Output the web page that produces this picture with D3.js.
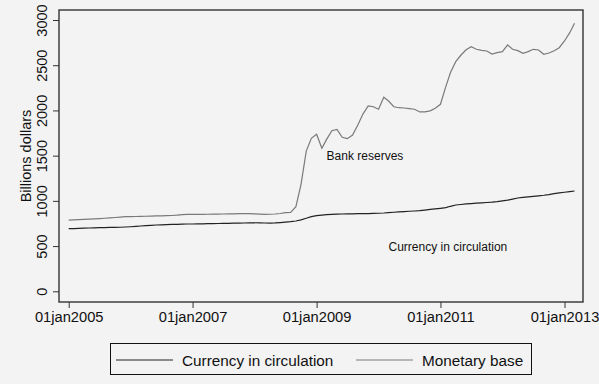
<!DOCTYPE html>
<html>
<head>
<meta charset="utf-8">
<script src="https://cdn.jsdelivr.net/npm/d3@7"></script>
<style>
  body { margin: 0; background: #f3f3f3; }
  svg { display: block; font-family: "Liberation Sans", Arial, sans-serif; }
</style>
</head>
<body>
<svg id="chart" width="599" height="384"></svg>
<script>

// monthly, Jan 2005 .. Mar 2013, billions of dollars
var currency = [
  692, 694, 696, 698, 700, 702, 704, 705, 706, 707, 708, 711,
  714, 718, 722, 726, 730, 733, 735, 737, 739, 741, 742, 744,
  744, 745, 746, 748, 749, 750, 751, 752, 753, 754, 755, 757,
  758, 757, 755, 754, 756, 760, 765, 770, 777, 790, 808, 825,
  836, 843, 848, 851, 853, 855, 856, 857, 858, 859, 860, 862,
  863, 866, 870, 874, 878, 882, 885, 888, 892, 898, 905, 912,
  918, 925, 940, 954, 960, 966, 970, 974, 978, 982, 986, 992,
  1000, 1008, 1020, 1032, 1039, 1045, 1050, 1056, 1062, 1070, 1080, 1088,
  1095, 1102, 1109
];

var monetaryBase = [
  788, 790, 792, 795, 798, 801, 804, 808, 812, 816, 820, 825,
  826, 827, 828, 830, 832, 834, 835, 836, 838, 842, 848, 851,
  851, 850, 851, 852, 853, 854, 855, 856, 857, 858, 858, 860,
  856, 853, 851, 852, 855, 860, 869, 873, 936, 1180, 1550, 1692,
  1736, 1581, 1680, 1776, 1791, 1703, 1688, 1728, 1840, 1960, 2049, 2041,
  2013, 2145, 2104, 2041, 2030, 2027, 2020, 2013, 1983, 1985, 1995, 2024,
  2068, 2260, 2420, 2539, 2610, 2670, 2705, 2676, 2665, 2657, 2624, 2640,
  2650, 2724, 2676, 2661, 2632, 2650, 2676, 2668, 2621, 2635, 2660, 2694,
  2768, 2860, 2964
];

var xTickLabels = ['01jan2005', '01jan2007', '01jan2009', '01jan2011', '01jan2013'];
var yTicks = [0, 500, 1000, 1500, 2000, 2500, 3000];
var legendLabels = ['Currency in circulation', 'Monetary base'];

var svg = d3.select('#chart'),
    frame = { left: 59, top: 10, right: 583, bottom: 302 },
    month = function(i) { return new Date(2005, i, 1); },
    parseTick = d3.timeParse('%d%b%Y');

var x = d3.scaleTime()
      .domain([new Date(2005, 0, 1), new Date(2013, 0, 1)])
      .range([68.7, 564.5]),
    y = d3.scaleLinear()
      .domain([0, 3000])
      .range([291.3, 20]);

svg.append('rect')
    .attr('width', 599)
    .attr('height', 384)
    .attr('fill', '#f3f3f3');

var line = d3.line()
      .x(function(d, i) { return x(month(i)); })
      .y(function(d) { return y(d); });

svg.append('path')
    .attr('d', line(monetaryBase))
    .attr('fill', 'none')
    .attr('stroke', '#7a7a7a')
    .attr('stroke-width', 1.2);

svg.append('path')
    .attr('d', line(currency))
    .attr('fill', 'none')
    .attr('stroke', '#222')
    .attr('stroke-width', 1.2);

// plot frame
svg.append('rect')
    .attr('x', frame.left)
    .attr('y', frame.top)
    .attr('width', frame.right - frame.left)
    .attr('height', frame.bottom - frame.top)
    .attr('fill', 'none')
    .attr('stroke', '#333')
    .attr('stroke-width', 1.4);

// y axis, labels turned to read upwards
var yAxis = d3.axisLeft(y)
      .tickValues(yTicks)
      .tickFormat(d3.format('d'))
      .tickSize(6);

var gy = svg.append('g')
    .attr('transform', 'translate(' + frame.left + ',0)')
    .call(yAxis);
gy.select('.domain').remove();
gy.selectAll('line').attr('stroke', '#333');
gy.selectAll('text')
    .attr('transform', 'rotate(-90)')
    .attr('x', 0)
    .attr('y', -12)
    .attr('dy', 0)
    .attr('text-anchor', 'middle')
    .attr('font-size', 14.5)
    .attr('fill', '#111');

svg.append('text')
    .attr('transform', 'translate(31,' + (frame.top + frame.bottom) / 2 + ') rotate(-90)')
    .attr('text-anchor', 'middle')
    .attr('font-size', 14.5)
    .attr('fill', '#111')
    .text('Billions dollars');

// x axis
var xAxis = d3.axisBottom(x)
      .tickValues(xTickLabels.map(function(s) { return parseTick(s); }))
      .tickFormat(function(d, i) { return xTickLabels[i]; })
      .tickSize(6)
      .tickPadding(4);

var gx = svg.append('g')
    .attr('transform', 'translate(0,' + frame.bottom + ')')
    .call(xAxis);
gx.select('.domain').remove();
gx.selectAll('line').attr('stroke', '#333');
gx.selectAll('text')
    .attr('font-size', 14.7)
    .attr('fill', '#111');

// annotations
svg.append('text')
    .attr('x', x(month(50.4)))
    .attr('y', y(1447))
    .attr('font-size', 12)
    .attr('fill', '#111')
    .text('Bank reserves');

svg.append('text')
    .attr('x', x(month(62.7)))
    .attr('y', y(446))
    .attr('font-size', 12)
    .attr('fill', '#111')
    .text('Currency in circulation');

// legend
var legend = svg.append('g');
legend.append('rect')
    .attr('x', 110.5)
    .attr('y', 343.5)
    .attr('width', 421)
    .attr('height', 31)
    .attr('fill', 'none')
    .attr('stroke', '#111')
    .attr('stroke-width', 1);

var legendColors = ['#222', '#7a7a7a'],
    legendX = [116, 356];

legendLabels.forEach(function(label, i) {
  legend.append('line')
      .attr('x1', legendX[i])
      .attr('x2', legendX[i] + 57)
      .attr('y1', 360)
      .attr('y2', 360)
      .attr('stroke', legendColors[i])
      .attr('stroke-width', 1.2);
  legend.append('text')
      .attr('x', legendX[i] + 66)
      .attr('y', 365.5)
      .attr('font-size', 15.3)
      .attr('fill', '#111')
      .text(label);
});

</script>
</body>
</html>
